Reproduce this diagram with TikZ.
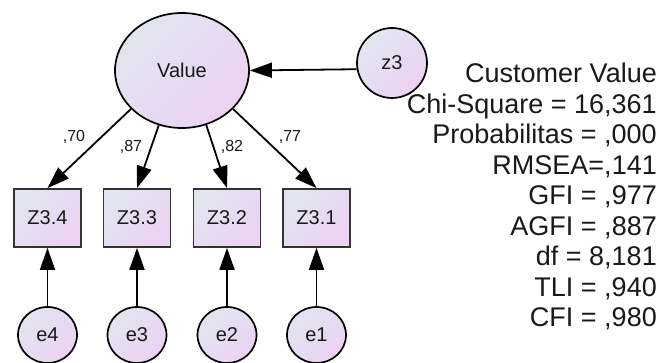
\documentclass[tikz,border=0pt]{standalone}
\usepackage{fontspec}
\setmainfont{Liberation Sans}
\usetikzlibrary{arrows.meta,shapes.geometric}
\definecolor{fillA}{RGB}{226,229,240}
\definecolor{fillB}{RGB}{236,210,243}
\definecolor{ink}{RGB}{25,25,25}
\begin{document}
\begin{tikzpicture}[x=1pt,y=-1pt,
  fillgrad/.style={top color=fillA,bottom color=fillB,shading angle=45},
  latent/.style={ellipse,draw=black,line width=1.7pt,fillgrad,inner sep=0pt,text=ink,font=\fontsize{20}{24}\selectfont},
  observed/.style={rectangle,draw=black!80,line width=1.8pt,fillgrad,minimum width=67pt,minimum height=58pt,inner sep=0pt,text=ink,font=\fontsize{20}{24}\selectfont},
  arr/.style={line width=1.8pt,-{Triangle[length=22pt,width=15pt]}},
  loading/.style={font=\fontsize{16}{18}\selectfont,inner sep=0pt,text=ink},
]
\useasboundingbox (0,0) rectangle (662,363);
\node[latent,minimum width=134pt,minimum height=115pt] (Value) at (182,70.5) {Value};
\node[latent,minimum width=70pt,minimum height=70pt] (z3) at (392,63) {z3};
\node[observed] (Z34) at (47.5,218) {Z3.4};
\node[observed] (Z33) at (137,218) {Z3.3};
\node[observed] (Z32) at (227,218) {Z3.2};
\node[observed] (Z31) at (316.5,218) {Z3.1};
\node[latent,minimum width=59pt,minimum height=56pt] (e4) at (47.5,335) {e4};
\node[latent,minimum width=59pt,minimum height=56pt] (e3) at (137,335) {e3};
\node[latent,minimum width=59pt,minimum height=56pt] (e2) at (227,335) {e2};
\node[latent,minimum width=59pt,minimum height=56pt] (e1) at (316.5,335) {e1};
\draw[arr] (z3.190) -- (Value.east);
\draw[arr] (Value.217) -- (Z34.north);
\draw[arr] (Value.247) -- (Z33.north);
\draw[arr] (Value.294) -- (Z32.north);
\draw[arr] (Value.323) -- (Z31.north);
\draw[arr] (e4) -- (Z34);
\draw[arr] (e3) -- (Z33);
\draw[arr] (e2) -- (Z32);
\draw[arr] (e1) -- (Z31);
\node[loading] (l4) at (74,137) {,70};
\node[loading] (l3) at (131,147) {,87};
\node[loading] (l2) at (232,147) {,82};
\node[loading] (l1) at (290,137) {,77};
\node[anchor=north east,inner sep=0pt,align=right,text=ink,font=\fontsize{27}{30.5}\selectfont] (fit) at (657,63)
  {Customer Value\\Chi-Square = 16,361\\Probabilitas = ,000\\RMSEA=,141\\GFI = ,977\\AGFI = ,887\\df = 8,181\\TLI = ,940\\CFI = ,980};
\end{tikzpicture}
\end{document}
